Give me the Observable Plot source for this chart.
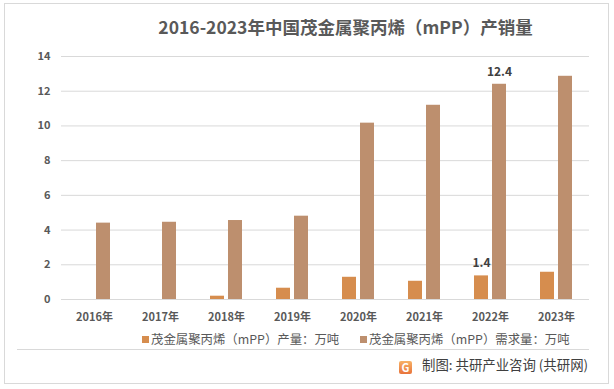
<!DOCTYPE html>
<html>
<head>
<meta charset="utf-8">
<script src="https://cdn.jsdelivr.net/npm/d3@7"></script>
<script src="https://cdn.jsdelivr.net/npm/@observablehq/plot@0.6"></script>
<style>
  html, body { margin: 0; padding: 0; background: #fff; }
  body { width: 614px; height: 389px; position: relative; overflow: hidden;
         font-family: "Noto Sans CJK SC", "Noto Sans", sans-serif; }
  #frame { position: absolute; left: 4px; top: 3px; width: 603px; height: 379px; border: 1px solid #d9d9d9; }
  #title { position: absolute; left: 45px; width: 601px; top: 15px; text-align: center;
           font-size: 17.5px; font-weight: bold; color: #595959; line-height: 24px; white-space: nowrap; }
  #chart { position: absolute; left: 0; top: 40px; }
  .legend { position: absolute; top: 331px; font-size: 12.4px; color: #595959; line-height: 16px; white-space: nowrap; }
  .legend span.sw { display: inline-block; width: 7px; height: 7px; margin-right: 2px; vertical-align: 1px; }
  #sep { position: absolute; left: 17px; top: 349px; width: 572px; height: 1px; background: #d9d9d9; }
  #credit { position: absolute; left: 399px; top: 355px; font-size: 13.4px; color: #404040; line-height: 18px; white-space: nowrap; }
  #logo { display: inline-block; width: 13px; height: 13px; border-radius: 2px; vertical-align: -2px; margin-right: 10px;
          background: linear-gradient(180deg, #f7b267, #e8733a); color: #fff; font-size: 11px; font-weight: bold;
          text-align: center; line-height: 13px; }
</style>
</head>
<body>
<div id="frame"></div>
<div id="title">2016-2023年中国茂金属聚丙烯（mPP）产销量</div>
<div id="chart"></div>
<div id="legend"></div>
<div id="sep"></div>
<div id="credit"><span id="logo">G</span>制图: 共研产业咨询 (共研网)</div>
<script>
const years = ["2016年", "2017年", "2018年", "2019年", "2020年", "2021年", "2022年", "2023年"];
const production = [0, 0, 0.19, 0.65, 1.28, 1.05, 1.36, 1.57];
const demand = [4.40, 4.45, 4.55, 4.80, 10.16, 11.19, 12.40, 12.86];
const seriesNames = ["茂金属聚丙烯（mPP）产量：万吨", "茂金属聚丙烯（mPP）需求量：万吨"];
const seriesColors = ["#D68D4E", "#BD8F6E"];
const yTicks = [0, 2, 4, 6, 8, 10, 12, 14];
const labelledYears = ["2022年"];

const rows = years.flatMap((year, i) => [
  {year, series: seriesNames[0], value: production[i]},
  {year, series: seriesNames[1], value: demand[i]}
]);

const chart = Plot.plot({
  width: 614,
  height: 290,
  marginTop: 16,
  marginBottom: 31,
  marginLeft: 58,
  marginRight: 22,
  style: {fontFamily: '"Noto Sans CJK SC", "Noto Sans", sans-serif', fontSize: "11px", fontWeight: "bold", color: "#595959", background: "transparent"},
  fx: {domain: years, padding: 0, label: null, tickSize: 0, tickPadding: 14},
  x: {domain: seriesNames, paddingInner: 0.21, paddingOuter: 0.86, axis: null},
  y: {domain: [0, 14], ticks: yTicks, label: null, tickSize: 0, tickPadding: 11},
  color: {domain: seriesNames, range: seriesColors},
  marks: [
    Plot.gridY(yTicks, {stroke: "#d9d9d9", strokeOpacity: 1}),
    Plot.barY(rows, {fx: "year", x: "series", y: "value", fill: "series"}),
    Plot.text(rows.filter(d => labelledYears.includes(d.year)), {
      fx: "year", x: "series", y: "value", text: d => d.value.toFixed(1),
      dy: -12.5, fill: "#404040", fontSize: 12, fontWeight: "bold"
    })
  ]
});
document.getElementById("chart").appendChild(chart);

const legend = document.getElementById("legend");
const legendLefts = [142, 360];
seriesNames.forEach((name, i) => {
  const item = document.createElement("div");
  item.className = "legend";
  item.style.left = legendLefts[i] + "px";
  item.innerHTML = `<span class="sw" style="background:${seriesColors[i]}"></span>${name}`;
  legend.appendChild(item);
});
</script>
</body>
</html>
